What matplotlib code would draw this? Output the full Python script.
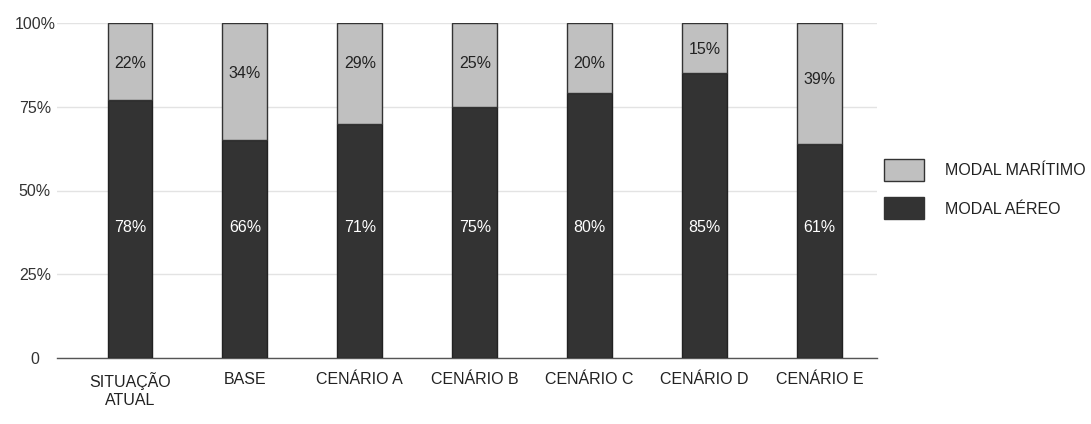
import numpy as np
import matplotlib
matplotlib.use('Agg')
import matplotlib.pyplot as plt
from matplotlib.patches import Patch

# --- dados ---
categorias = ['SITUAÇÃO\nATUAL', 'BASE', 'CENÁRIO A', 'CENÁRIO B', 'CENÁRIO C', 'CENÁRIO D', 'CENÁRIO E']
aereo = [77, 65, 70, 75, 79, 85, 64]
maritimo = [23, 35, 30, 25, 21, 15, 36]       # altura da parte clara
rotulo_aereo = ['78%', '66%', '71%', '75%', '80%', '85%', '61%']
rotulo_maritimo = ['22%', '34%', '29%', '25%', '20%', '15%', '39%']
yticks = [0, 25, 50, 75, 100]
ytick_labels = ['0', '25%', '50%', '75%', '100%']

# posição vertical dos rótulos (em % do eixo)
Y_ROT_AEREO = 39
Y_ROT_MARITIMO = [88, 85, 88, 88, 88, 92, 83]

COR_AEREO = '#333333'
COR_MARITIMO = '#c0c0c0'
FS = 11.5

plt.rcParams['font.family'] = ['Liberation Sans', 'DejaVu Sans']

fig = plt.figure(figsize=(10.91, 4.24), dpi=100)
ax = fig.add_axes([57 / 1091, 1 - 358 / 424, (877 - 57) / 1091, 335 / 424])

x = np.arange(len(categorias))
w = 0.39
ax.bar(x, aereo, w, color=COR_AEREO, edgecolor='#222222', linewidth=1, zorder=3)
ax.bar(x, maritimo, w, bottom=aereo, color=COR_MARITIMO, edgecolor='#333333', linewidth=1, zorder=3)

for i in range(len(x)):
    ax.text(x[i], Y_ROT_AEREO, rotulo_aereo[i], ha='center', va='center', color='white', fontsize=FS, zorder=4)
    ax.text(x[i], Y_ROT_MARITIMO[i], rotulo_maritimo[i], ha='center', va='center',
            color='#222222', fontsize=FS, zorder=4)

ax.set_xlim(-0.635, 6.5)
ax.set_ylim(0, 100)
ax.set_yticks(yticks)
ax.set_yticklabels(ytick_labels)
ax.set_xticks(x)
ax.set_xticklabels(categorias, linespacing=1.3)
ax.tick_params(axis='y', length=0, pad=16, labelsize=FS, labelcolor='#333333')
ax.tick_params(axis='x', length=0, pad=10, labelsize=FS, labelcolor='#222222')
for lab in ax.get_yticklabels():
    lab.set_ha('center')
for lab in ax.get_xticklabels():
    lab.set_va('top')

ax.grid(axis='y', color='#e3e3e3', linewidth=1, zorder=0)
for s in ['top', 'right', 'left']:
    ax.spines[s].set_visible(False)
ax.spines['bottom'].set_color('#555555')
ax.spines['bottom'].set_linewidth(1)
ax.set_axisbelow(True)

handles = [Patch(facecolor=COR_MARITIMO, edgecolor='#333333', label='MODAL MARÍTIMO'),
           Patch(facecolor=COR_AEREO, edgecolor='#333333', label='MODAL AÉREO')]
fig.legend(handles=handles, loc='center left', bbox_to_anchor=(870 / 1091, 1 - 189 / 424),
           frameon=False, fontsize=FS, handlelength=2.5, handleheight=1.75,
           handletextpad=1.3, labelspacing=1.05, labelcolor='#222222')

plt.savefig('out.png', dpi=100)
